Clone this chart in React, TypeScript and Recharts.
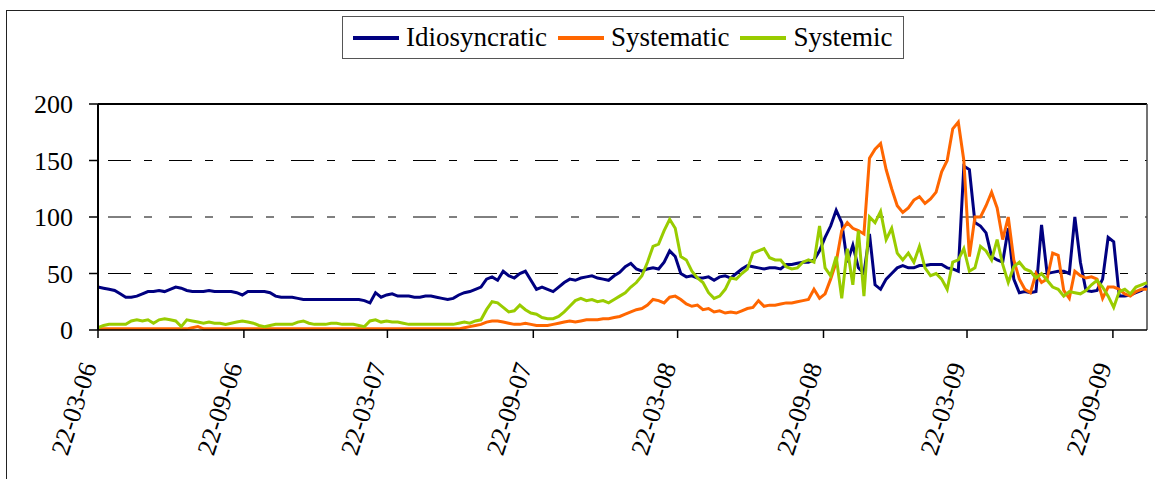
import { LineChart, Line, XAxis, YAxis, ReferenceLine } from 'recharts';

const FONT = "'Liberation Serif', 'Times New Roman', serif";

// weekly observations starting 22-03-06
const idiosyncratic = [
  38, 37, 36, 35, 32, 29, 29, 30, 32, 34,
  34, 35, 34, 36, 38, 37, 35, 34, 34, 34,
  35, 34, 34, 34, 34, 33, 31, 34, 34, 34,
  34, 33, 30, 29, 29, 29, 28, 27, 27, 27,
  27, 27, 27, 27, 27, 27, 27, 27, 26, 24,
  33, 29, 31, 32, 30, 30, 30, 29, 29, 30,
  30, 29, 28, 27, 28, 31, 33, 34, 36, 38,
  45, 47, 44, 52, 48, 46, 50, 52, 44, 36,
  38, 36, 34, 38, 42, 45, 44, 46, 47, 48,
  46, 45, 44, 48, 51, 56, 59, 54, 52, 54,
  55, 54, 60, 70, 65, 50, 47, 48, 46, 46,
  47, 44, 47, 48, 46, 50, 54, 57, 56, 55,
  54, 55, 55, 54, 58, 58, 59, 60, 60, 62,
  70, 82, 92, 106, 95, 60, 75, 55, 50, 85,
  40, 36, 45, 50, 55, 57, 55, 55, 57, 57,
  58, 58, 58, 55, 54, 52, 145, 142, 95, 92,
  86, 65, 62, 60, 90, 45, 33, 34, 33, 34,
  93, 50, 51, 52, 52, 50, 100, 60, 35, 34,
  35, 45, 82, 78, 30, 30, 31, 33, 35, 39
];

const systematic = [
  1, 1, 1, 1, 1, 1, 1, 1, 1, 1,
  1, 1, 1, 1, 1, 1, 1, 2, 3, 1,
  1, 1, 1, 1, 1, 1, 1, 1, 1, 1,
  1, 1, 1, 1, 1, 1, 1, 1, 1, 1,
  1, 1, 1, 1, 1, 1, 1, 1, 1, 1,
  1, 1, 1, 1, 1, 1, 1, 1, 1, 1,
  1, 1, 1, 1, 1, 1, 2, 3, 4, 5,
  7, 8, 8, 7, 6, 5, 5, 6, 5, 4,
  4, 4, 5, 6, 7, 8, 7, 8, 9, 9,
  9, 10, 10, 11, 12, 14, 16, 18, 19, 22,
  27, 26, 24, 29, 30, 27, 23, 21, 22, 18,
  19, 16, 17, 15, 16, 15, 17, 19, 20, 26,
  21, 22, 22, 23, 24, 24, 25, 26, 27, 36,
  28, 32, 45, 60, 88, 95, 90, 88, 85, 152,
  160, 165, 142, 125, 110, 104, 108, 115, 118, 112,
  116, 122, 140, 150, 178, 184, 150, 65, 100, 100,
  110, 122, 108, 80, 100, 62, 45, 36, 33, 50,
  42, 45, 68, 66, 35, 28, 52, 48, 46, 47,
  45, 28, 38, 38, 36, 32, 30, 34, 36, 36
];

const systemic = [
  2, 4, 5, 5, 5, 5, 8, 9, 8, 9,
  6, 9, 10, 9, 8, 3, 9, 8, 7, 6,
  7, 6, 6, 5, 6, 7, 8, 7, 6, 4,
  3, 4, 5, 5, 5, 5, 7, 8, 6, 5,
  5, 5, 6, 6, 5, 5, 5, 4, 3, 8,
  9, 7, 8, 7, 7, 6, 5, 5, 5, 5,
  5, 5, 5, 5, 5, 6, 7, 6, 8, 9,
  18, 25, 24, 20, 16, 17, 22, 18, 15, 14,
  11, 10, 10, 12, 16, 21, 26, 28, 26, 27,
  25, 26, 24, 27, 30, 33, 38, 42, 48, 60,
  74, 76, 88, 98, 90, 65, 62, 52, 46, 42,
  33, 28, 30, 36, 46, 45, 50, 54, 68, 70,
  72, 64, 62, 62, 56, 54, 55, 60, 62, 60,
  92, 55, 48, 65, 28, 72, 40, 88, 30, 100,
  95, 105, 80, 90, 68, 62, 68, 60, 74, 55,
  48, 50, 45, 36, 60, 62, 72, 52, 55, 74,
  70, 62, 80, 58, 42, 56, 60, 54, 52, 46,
  50, 44, 38, 36, 30, 34, 33, 32, 35, 40,
  44, 38, 30, 20, 34, 36, 32, 38, 40, 42
];

// tick positions in days after 22-03-06
const tickDays = [0, 184, 365, 549, 731, 915, 1096, 1280];
const tickLabels = ['22-03-06', '22-09-06', '22-03-07', '22-09-07', '22-03-08', '22-09-08', '22-03-09', '22-09-09'];
const yTicks = [0, 50, 100, 150, 200];

const seriesInfo = [
  { key: 'idiosyncratic', name: 'Idiosyncratic', color: '#000080' },
  { key: 'systematic', name: 'Systematic', color: '#ff6600' },
  { key: 'systemic', name: 'Systemic', color: '#99cc00' }
];

const data = idiosyncratic.map((v, i) => ({
  week: i,
  idiosyncratic: v,
  systematic: systematic[i],
  systemic: systemic[i]
}));

const tickWeeks = tickDays.map(d => d / 7);

const DateTick = ({ x, y, payload }: { x?: number; y?: number; payload?: { value: number } }) => {
  const idx = tickWeeks.findIndex(w => Math.abs(w - (payload?.value ?? -1)) < 0.01);
  const ax = (x ?? 0) - 1;
  const ay = (y ?? 0) + 26;
  return (
    <text
      x={ax}
      y={ay}
      transform={`rotate(-72, ${ax}, ${ay})`}
      textAnchor="end"
      fontSize={26}
      fontFamily={FONT}
      fill="#000"
    >
      {idx >= 0 ? tickLabels[idx] : ''}
    </text>
  );
};

function ChartLegend() {
  return (
    <div
      style={{
        position: 'absolute',
        left: 342,
        top: 16,
        width: 562,
        height: 43,
        border: '1px solid #555',
        boxSizing: 'border-box',
        display: 'flex',
        alignItems: 'center',
        paddingLeft: 10,
        fontFamily: FONT,
        fontSize: 27,
        color: '#000',
        background: '#fff'
      }}
    >
      {seriesInfo.map((s, i) => (
        <div key={s.key} style={{ display: 'flex', alignItems: 'center', marginLeft: i === 0 ? 0 : 11 }}>
          <span style={{ display: 'inline-block', width: 46, height: 4, background: s.color, marginRight: 7 }} />
          <span style={{ lineHeight: 1 }}>{s.name}</span>
        </div>
      ))}
    </div>
  );
}

export default function App() {
  return (
    <div style={{ position: 'absolute', left: 0, top: 0, width: 1155, height: 479, overflow: 'hidden', background: '#fff' }}>
      <div
        style={{
          position: 'absolute',
          left: 6,
          top: 10,
          width: 1170,
          height: 500,
          border: '1.5px solid #222'
        }}
      />
      <div style={{ position: 'absolute', left: 0, top: 0 }}>
        <LineChart width={1155} height={479} data={data} margin={{ top: 104, right: 8, left: 38, bottom: 9 }}>
          <XAxis
            dataKey="week"
            type="number"
            domain={[0, 189]}
            ticks={tickWeeks}
            interval={0}
            height={140}
            tickSize={8}
            tick={<DateTick />}
            axisLine={{ stroke: '#000', strokeWidth: 1.5 }}
            tickLine={{ stroke: '#000', strokeWidth: 1.5 }}
          />
          <YAxis
            domain={[0, 200]}
            ticks={yTicks}
            width={60}
            tickSize={9}
            tickMargin={16}
            tick={{ fontSize: 26, fill: '#000', fontFamily: FONT }}
            axisLine={{ stroke: '#000', strokeWidth: 2 }}
            tickLine={{ stroke: '#000', strokeWidth: 1.5 }}
          />
          {[50, 100, 150].map(v => (
            <ReferenceLine
              key={v}
              y={v}
              stroke="#000"
              strokeWidth={1}
              strokeDasharray="23 13 8 17"
              strokeDashoffset={51}
            />
          ))}
          <ReferenceLine y={200} stroke="#000" strokeWidth={2} />
          <ReferenceLine x={189} stroke="#444" strokeWidth={1.5} />
          {seriesInfo.map(s => (
            <Line
              key={s.key}
              type="linear"
              dataKey={s.key}
              name={s.name}
              stroke={s.color}
              strokeWidth={3}
              dot={false}
              isAnimationActive={false}
            />
          ))}
        </LineChart>
      </div>
      <ChartLegend />
    </div>
  );
}
